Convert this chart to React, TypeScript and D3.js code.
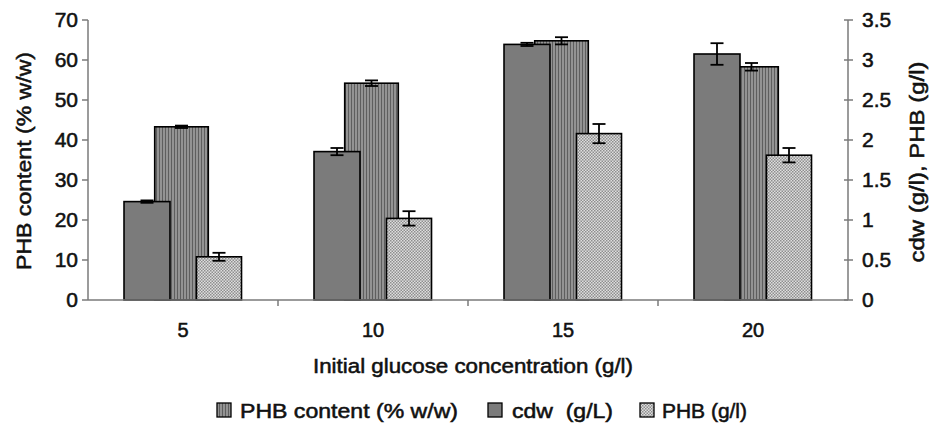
import React from 'react';
import * as d3 from 'd3';

// glucose levels (g/l)
const categories = ['5', '10', '15', '20'];

// cell dry weight (g/l), right axis
const cdw = [1.23, 1.855, 3.195, 3.075];
const cdwErr = [0.015, 0.045, 0.02, 0.135];

// PHB content (% w/w), left axis
const phbContent = [43.3, 54.2, 64.8, 58.3];
const phbContentErr = [0.3, 0.7, 0.9, 0.95];

// PHB (g/l), right axis
const phb = [0.54, 1.02, 2.08, 1.81];
const phbErr = [0.05, 0.09, 0.12, 0.09];

const leftTicks = [0, 10, 20, 30, 40, 50, 60, 70];
const rightTicks = [0, 0.5, 1, 1.5, 2, 2.5, 3, 3.5];

const FONT = '"Liberation Sans", Arial, sans-serif';
const INK = '#111';
const AXIS = '#7a7a7a';

// the scanned text is a little heavier than plain Arial
const heavy = { stroke: INK, strokeWidth: 0.55 };

function ErrorBar({ cx, yTop, yBottom }: { cx: number; yTop: number; yBottom: number }) {
  const cap = 6.5;
  return (
    <g stroke="#000" strokeWidth={1.8}>
      <line x1={cx} x2={cx} y1={yTop} y2={yBottom} />
      <line x1={cx - cap} x2={cx + cap} y1={yTop} y2={yTop} />
      <line x1={cx - cap} x2={cx + cap} y1={yBottom} y2={yBottom} />
    </g>
  );
}

export default function App() {
  const x = d3.scaleBand<string>().domain(categories).range([88, 848]).paddingInner(0);
  const yLeft = d3.scaleLinear().domain([0, 70]).range([300, 20]);
  const yRight = d3.scaleLinear().domain([0, 3.5]).range([300, 20]);
  const bw = x.bandwidth();

  // centre offsets of the three bars inside a group
  const slot = d3.scalePoint<string>().domain(['cdw', 'content', 'phb']).range([-36, 36]);
  const widths = { cdw: bw * 0.242, content: bw * 0.282, phb: bw * 0.237 };

  const center = (c: string) => (x(c) as number) + bw / 2;
  const barX = (key: 'cdw' | 'content' | 'phb', c: string) =>
    center(c) + (slot(key) as number) + (key === 'content' ? -1.5 : 0);

  const bar = (
    key: 'cdw' | 'content' | 'phb',
    vals: number[],
    y: d3.ScaleLinear<number, number>,
    fill: string,
  ) =>
    categories.map((c, i) => {
      const cx = barX(key, c);
      const w = widths[key];
      return (
        <rect
          key={key + c}
          x={cx - w / 2}
          y={y(vals[i])}
          width={w}
          height={y(0) - y(vals[i])}
          fill={fill}
          stroke="#000"
          strokeWidth={1.6}
        />
      );
    });

  const errs = (
    key: 'cdw' | 'content' | 'phb',
    vals: number[],
    e: number[],
    y: d3.ScaleLinear<number, number>,
  ) =>
    categories.map((c, i) => (
      <ErrorBar key={'e' + key + c} cx={barX(key, c)} yTop={y(vals[i] + e[i])} yBottom={y(vals[i] - e[i])} />
    ));

  return (
    <svg
      width={933}
      height={423}
      style={{ position: 'absolute', left: 0, top: 0, background: '#fff' }}
      fontFamily={FONT}
    >
      <defs>
        <pattern id="stripes" patternUnits="userSpaceOnUse" width={3} height={3}>
          <rect width={3} height={3} fill="#939393" />
          <rect width={1} height={3} fill="#5e5e5e" />
        </pattern>
        <pattern id="checks" patternUnits="userSpaceOnUse" width={3} height={3}>
          <rect width={3} height={3} fill="#dedede" />
          <rect width={1.5} height={1.5} fill="#8e8e8e" />
          <rect x={1.5} y={1.5} width={1.5} height={1.5} fill="#8e8e8e" />
        </pattern>
      </defs>

      <rect width={933} height={423} fill="#fff" />

      {/* bars: primary series first, secondary drawn over it */}
      {bar('content', phbContent, yLeft, 'url(#stripes)')}
      {bar('cdw', cdw, yRight, '#7b7b7b')}
      {bar('phb', phb, yRight, 'url(#checks)')}
      {errs('content', phbContent, phbContentErr, yLeft)}
      {errs('cdw', cdw, cdwErr, yRight)}
      {errs('phb', phb, phbErr, yRight)}

      {/* x axis */}
      <line x1={88} x2={848} y1={300} y2={300} stroke={AXIS} strokeWidth={1.5} />
      {categories.slice(1).map((c) => (
        <line key={'xt' + c} x1={x(c)} x2={x(c)} y1={300} y2={306} stroke={AXIS} strokeWidth={1.5} />
      ))}
      {categories.map((c) => (
        <text key={'xl' + c} x={center(c)} y={337} textAnchor="middle" fontSize={20} fill={INK} {...heavy}>
          {c}
        </text>
      ))}
      <text
        x={473}
        y={373}
        textAnchor="middle"
        fontSize={21}
        fill={INK}
        {...heavy}
        textLength={320}
        lengthAdjust="spacingAndGlyphs"
      >
        Initial glucose concentration (g/l)
      </text>

      {/* left axis */}
      <line x1={88} x2={88} y1={20} y2={300} stroke={AXIS} strokeWidth={1.5} />
      {leftTicks.map((t) => (
        <g key={'lt' + t}>
          <line x1={82} x2={88} y1={yLeft(t)} y2={yLeft(t)} stroke={AXIS} strokeWidth={1.5} />
          <text x={78} y={yLeft(t)} dy="0.33em" textAnchor="end" fontSize={21} fill={INK} {...heavy}>
            {t}
          </text>
        </g>
      ))}
      <text
        transform="translate(31,161) rotate(-90)"
        textAnchor="middle"
        fontSize={21}
        fill={INK}
        {...heavy}
        textLength={218}
        lengthAdjust="spacingAndGlyphs"
      >
        PHB content (% w/w)
      </text>

      {/* right axis */}
      <line x1={848} x2={848} y1={20} y2={300} stroke={AXIS} strokeWidth={1.5} />
      {rightTicks.map((t) => (
        <g key={'rt' + t}>
          <line x1={844} x2={853} y1={yRight(t)} y2={yRight(t)} stroke={AXIS} strokeWidth={1.5} />
          <text x={862} y={yRight(t)} dy="0.33em" textAnchor="start" fontSize={21} fill={INK} {...heavy}>
            {t}
          </text>
        </g>
      ))}
      <text
        transform="translate(924,162) rotate(-90)"
        textAnchor="middle"
        fontSize={21}
        fill={INK}
        {...heavy}
        textLength={201}
        lengthAdjust="spacingAndGlyphs"
      >
        cdw (g/l), PHB (g/l)
      </text>

      {/* legend */}
      {[
        { label: 'PHB content (% w/w)', fill: 'url(#stripes)', sx: 217, tx: 240, len: 218 },
        { label: 'cdw  (g/L)', fill: '#7b7b7b', sx: 488, tx: 512, len: 101 },
        { label: 'PHB (g/l)', fill: 'url(#checks)', sx: 640, tx: 662, len: 85 },
      ].map((d) => (
        <g key={d.label}>
          <rect x={d.sx} y={403} width={14} height={14} fill={d.fill} stroke="#000" strokeWidth={1.3} />
          <text
            x={d.tx}
            y={418}
            fontSize={21}
            fill={INK}
            {...heavy}
            textLength={d.len}
            lengthAdjust="spacingAndGlyphs"
            xmlSpace="preserve"
          >
            {d.label}
          </text>
        </g>
      ))}
    </svg>
  );
}
